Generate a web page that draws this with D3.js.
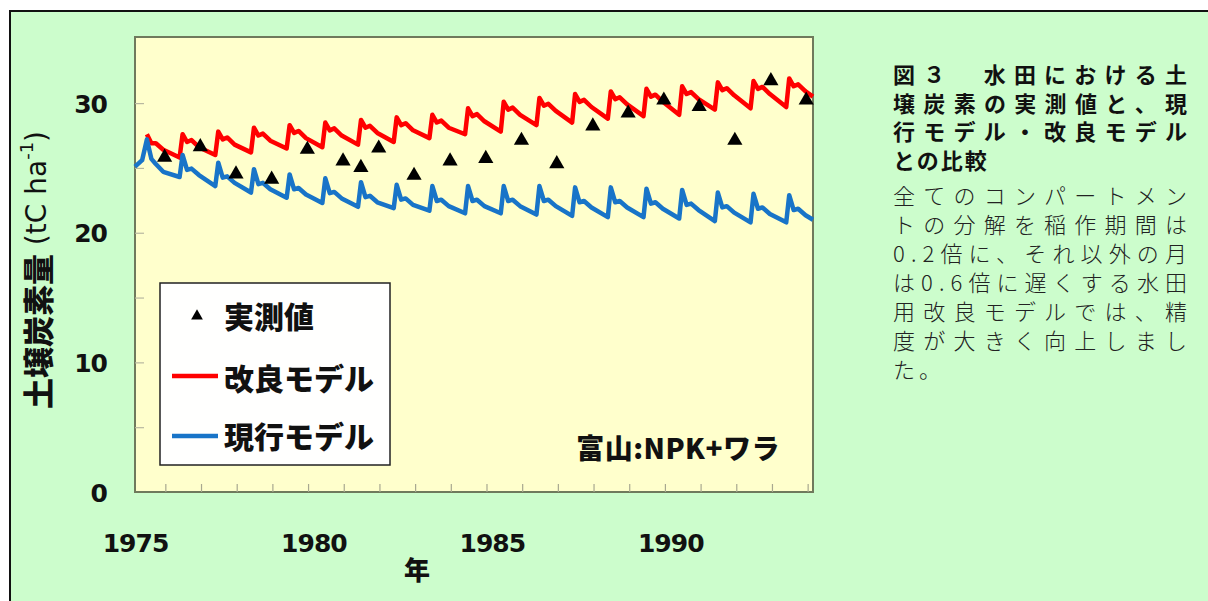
<!DOCTYPE html>
<html><head><meta charset="utf-8">
<script src="https://cdn.jsdelivr.net/npm/d3@7"></script>
<style>body{margin:0;background:#fff;} svg{display:block}</style>
</head><body><svg id="c" width="1208" height="601"></svg>
<script>
// ---- data ----
const cycleYears = [1975,1976,1977,1978,1979,1980,1981,1982,1983,1984,1985,1986,1987,1988,1989,1990,1991,1992,1993];
const keyMonths = [4, 5.5, 7, 9.5, 15]; // peak, drop, bump, mid, next-year minimum

const redPeak = [27.6,27.6,27.8,28.1,28.3,28.5,28.7,28.9,29.1,29.6,30.1,30.4,30.7,30.9,31.1,31.3,31.6,31.7,31.9];
const redDrop = [26.9,27.0,27.2,27.5,27.7,27.9,28.1,28.3,28.5,29.0,29.5,29.8,30.1,30.3,30.5,30.7,31.0,31.1,31.3];
const redBump = [26.9,27.15,27.35,27.65,27.85,28.05,28.25,28.45,28.65,29.15,29.65,29.95,30.25,30.45,30.65,30.85,31.15,31.25,31.45];
const redMid  = [26.4,26.6,26.8,27.1,27.3,27.5,27.7,27.9,28.1,28.6,29.1,29.4,29.7,29.9,30.1,30.3,30.6,30.7,30.9];
const redMin  = [25.8,26.0,26.2,26.5,26.6,26.8,27.0,27.3,27.6,27.8,28.3,28.5,28.8,29.0,29.1,29.5,29.6,29.7];
const redStart = [];
const redEnd = [1994, 30.5];

const bluePeak = [27.2,26.0,25.4,24.9,24.5,24.2,23.9,23.7,23.6,23.6,23.6,23.6,23.5,23.5,23.4,23.3,23.1,23.0,22.9];
const blueDrop = [25.7,24.85,24.25,23.75,23.35,23.05,22.75,22.55,22.45,22.45,22.45,22.45,22.35,22.35,22.25,22.15,21.95,21.85,21.75];
const blueBump = [25.3,24.95,24.35,23.85,23.45,23.15,22.85,22.65,22.55,22.55,22.55,22.55,22.45,22.45,22.35,22.25,22.05,21.95,21.85];
const blueMid  = [24.7,24.45,23.85,23.35,22.95,22.65,22.35,22.15,22.05,22.05,22.05,22.05,21.95,21.95,21.85,21.75,21.55,21.45,21.35];
const blueMin  = [24.3,23.6,23.1,22.7,22.3,22.0,21.9,21.7,21.5,21.5,21.4,21.3,21.2,21.2,21.1,20.9,20.8,20.8];
const blueStart = [[1975.0, 25.1],[1975.2, 25.6]];
const blueEnd = [1994, 21.0];

const obsYears  = [1975.83,1976.83,1977.83,1978.83,1979.83,1980.83,1981.33,1981.83,1982.82,1983.83,1984.83,1985.83,1986.82,1987.83,1988.82,1989.82,1990.81,1991.81,1992.82,1993.81];
const obsValues = [25.9,26.7,24.6,24.2,26.5,25.6,25.1,26.6,24.5,25.6,25.8,27.2,25.4,28.3,29.3,30.3,29.8,27.2,31.8,30.3];

const xLabelYears = [1975,1980,1985,1990];
const xTickYears = [1975.85,1976.85,1977.85,1978.85,1979.85,1980.85,1981.85,1982.85,1983.85,1984.85,1985.85,1986.85,1987.85,1988.85,1989.85,1990.85,1991.85,1992.85,1993.85];
const yLabelValues = [0,10,20,30];
const yTickValues = [5,10,15,20,25,30];

const legendLabels = ["実測値","改良モデル","現行モデル"];
const siteLabel = "富山:NPK+ワラ";
const xTitle = "年";
const titleLines = ["図３　水田における土","壌炭素の実測値と、現","行モデル・改良モデル","との比較"];
const bodyLines = ["全てのコンパートメン","トの分解を稲作期間は","0.2倍に、それ以外の月","は0.6倍に遅くする水田","用改良モデルでは、精","度が大きく向上しまし","た。"];

// ---- build ----
function buildSeries(start, peak, drop, bump, mid, mins, end){
  const pts = start.slice();
  cycleYears.forEach((yr,i)=>{
    pts.push([yr+keyMonths[0]/12, peak[i]]);
    pts.push([yr+keyMonths[1]/12, drop[i]]);
    pts.push([yr+keyMonths[2]/12, bump[i]]);
    pts.push([yr+keyMonths[3]/12, mid[i]]);
    if (i < mins.length) pts.push([yr+keyMonths[4]/12, mins[i]]);
  });
  pts.push(end);
  return pts;
}
const redSeries = buildSeries(redStart, redPeak, redDrop, redBump, redMid, redMin, redEnd);
const blueSeries = buildSeries(blueStart, bluePeak, blueDrop, blueBump, blueMid, blueMin, blueEnd);

const svg = d3.select("#c");
const W = 1208, H = 601;
const plot = {l:135, t:37, r:813, b:492};
const x = d3.scaleLinear().domain([1975,1994]).range([plot.l, plot.r]);
const y = d3.scaleLinear().domain([0,35.1]).range([plot.b, plot.t]);

const JP = "'Noto Sans CJK JP', sans-serif";
const LAT = "'DejaVu Sans', Verdana, sans-serif";

// outer panel
svg.append("rect").attr("x",0).attr("y",0).attr("width",W).attr("height",H).attr("fill","#fff");
svg.append("rect").attr("x",10).attr("y",11).attr("width",W+20).attr("height",H+20)
  .attr("fill","#ccfdcc").attr("stroke","#111").attr("stroke-width",2);

// plot area
svg.append("rect").attr("x",plot.l).attr("y",plot.t).attr("width",plot.r-plot.l).attr("height",plot.b-plot.t)
  .attr("fill","#ffffcc").attr("stroke","#6f7a5c").attr("stroke-width",2);

// ticks inside
const gxt = svg.append("g").attr("transform",`translate(0,${plot.b})`)
  .call(d3.axisTop(x).tickValues(xTickYears).tickSize(8).tickFormat(""));
gxt.select(".domain").remove();
gxt.selectAll("line").attr("stroke","#a8a890").attr("stroke-width",1.2);

const gyt = svg.append("g").attr("transform",`translate(${plot.l},0)`)
  .call(d3.axisRight(y).tickValues(yTickValues).tickSize(9).tickFormat(""));
gyt.select(".domain").remove();
gyt.selectAll("line").attr("stroke","#b8b8a0").attr("stroke-width",1.2);

// axis labels
const gx = svg.append("g").attr("transform","translate(0,543)")
  .call(d3.axisBottom(x).tickValues(xLabelYears).tickSize(0).tickFormat(d3.format("d")));
gx.select(".domain").remove();
gx.selectAll("text").attr("y",0).attr("dy","0.36em")
  .attr("font-family",LAT).attr("font-weight","bold").attr("font-size",25)
  .attr("letter-spacing",-1).attr("fill","#111");

const gy = svg.append("g").attr("transform","translate(107,0)")
  .call(d3.axisLeft(y).tickValues(yLabelValues).tickSize(0).tickPadding(0));
gy.select(".domain").remove();
gy.selectAll("text").attr("dy","0.36em")
  .attr("font-family",LAT).attr("font-weight","bold").attr("font-size",25)
  .attr("letter-spacing",-1).attr("fill","#111");

// axis titles
const yt = svg.append("text").attr("transform","translate(36,270) rotate(-90)")
  .attr("text-anchor","middle").attr("dominant-baseline","central").attr("fill","#111");
yt.append("tspan").text("土壌炭素量").attr("font-family",JP).attr("font-weight","900").attr("font-size",31);
yt.append("tspan").text(" (tC ha").attr("font-family",LAT).attr("font-size",28);
yt.append("tspan").text("-1").attr("font-family",LAT).attr("font-size",18).attr("dy",-10);
yt.append("tspan").text(")").attr("font-family",LAT).attr("font-size",28).attr("dy",10);

svg.append("text").attr("x",417).attr("y",568).attr("text-anchor","middle").attr("dominant-baseline","central")
  .attr("font-family",JP).attr("font-weight","900").attr("font-size",26).attr("fill","#111").text(xTitle);

// lines
const line = d3.line().x(d=>x(d[0])).y(d=>y(d[1]));
svg.append("path").datum(redSeries).attr("d",line).attr("fill","none")
  .attr("stroke","#ff0000").attr("stroke-width",4.5).attr("stroke-linejoin","round");
svg.append("path").datum(blueSeries).attr("d",line).attr("fill","none")
  .attr("stroke","#1874c8").attr("stroke-width",4.5).attr("stroke-linejoin","round");

// observed
const tri = d3.symbol().type(d3.symbolTriangle).size(100);
svg.append("g").selectAll("path").data(obsYears.map((t,i)=>[t,obsValues[i]])).join("path")
  .attr("d",tri).attr("transform",d=>`translate(${x(d[0])},${y(d[1])+1})`).attr("fill","#000");

// legend
svg.append("rect").attr("x",160).attr("y",283).attr("width",230).attr("height",182)
  .attr("fill","#fffffe").attr("stroke","#222").attr("stroke-width",1.5);
svg.append("path").attr("d",d3.symbol().type(d3.symbolTriangle).size(60)).attr("transform","translate(197,316)").attr("fill","#000");
svg.append("line").attr("x1",172).attr("x2",218).attr("y1",376).attr("y2",376).attr("stroke","#ff0000").attr("stroke-width",4.5);
svg.append("line").attr("x1",172).attr("x2",218).attr("y1",436).attr("y2",436).attr("stroke","#1874c8").attr("stroke-width",4.5);
[315,377,435].forEach((ly,i)=>{
  svg.append("text").attr("x",224).attr("y",ly).attr("dominant-baseline","central")
    .attr("font-family",JP).attr("font-weight","900").attr("font-size",30).attr("fill","#111").text(legendLabels[i]);
});

// site label
svg.append("text").attr("x",780).attr("y",447).attr("text-anchor","end").attr("dominant-baseline","central")
  .attr("font-family",JP).attr("font-weight","900").attr("font-size",28).attr("letter-spacing",0.5)
  .attr("fill","#111").text(siteLabel);

// side caption
const capX = 893, fullW = 294;
titleLines.forEach((s,i)=>{
  const t = svg.append("text").attr("x",capX).attr("y",73+i*28.5).attr("dominant-baseline","central")
    .attr("font-family",JP).attr("font-weight","bold").attr("font-size",22).attr("fill","#111").text(s);
  if (i < titleLines.length-1) t.attr("textLength",fullW).attr("lengthAdjust","spacing");
  else t.attr("letter-spacing",2);
});
bodyLines.forEach((s,i)=>{
  const t = svg.append("text").attr("x",capX).attr("y",194+i*29).attr("dominant-baseline","central")
    .attr("font-family",JP).attr("font-weight","300").attr("font-size",22).attr("fill","#222").text(s);
  if (i < bodyLines.length-1) t.attr("textLength",fullW).attr("lengthAdjust","spacing");
  else t.attr("letter-spacing",4);
});
</script></body></html>
